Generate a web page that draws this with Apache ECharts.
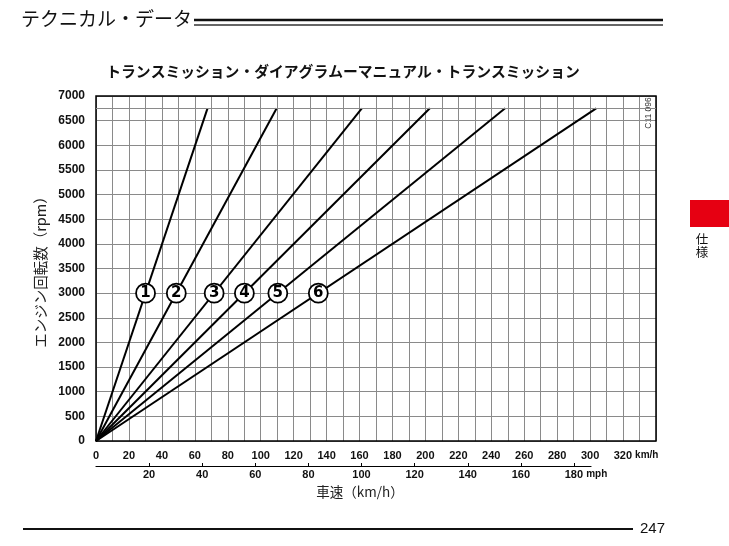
<!DOCTYPE html>
<html>
<head>
<meta charset="utf-8">
<script src="https://cdn.jsdelivr.net/npm/echarts@6/dist/echarts.min.js"></script>
<style>html,body{margin:0;padding:0;background:#fff}#c{width:729px;height:546px}</style>
</head>
<body>
<div id="c"></div>
<script>
// ---- data ----
const gears = ['1', '2', '3', '4', '5', '6'];
const gearTopSpeedKmh = [67.7, 109.7, 161.4, 202.7, 248.4, 303.7];
const topRpm = 6750;
const markerRpm = 3000;
const kmhTicks = [0, 20, 40, 60, 80, 100, 120, 140, 160, 180, 200, 220, 240, 260, 280, 300, 320];
const mphTicks = [20, 40, 60, 80, 100, 120, 140, 160, 180];
const rpmTicks = [0, 500, 1000, 1500, 2000, 2500, 3000, 3500, 4000, 4500, 5000, 5500, 6000, 6500, 7000];
const KMH_PER_MPH = 1.609344;

const JP = '"Noto Sans CJK JP", sans-serif';
const NUM = '"Liberation Sans", Arial, sans-serif';

const chart = echarts.init(document.getElementById('c'), null, {renderer: 'canvas'});

const lineSeries = gears.map((g, i) => ({
  type: 'line',
  xAxisIndex: 0, yAxisIndex: 0,
  data: [[0, 0], [gearTopSpeedKmh[i], topRpm]],
  symbol: 'none',
  lineStyle: {color: '#000', width: 2},
  silent: true,
  z: 3,
  markLine: i === 0 ? {
    silent: true, symbol: 'none', label: {show: false},
    lineStyle: {color: '#8a8a8a', width: 1, type: 'solid'},
    data: [{yAxis: topRpm}]
  } : undefined
}));

const markerSeries = {
  type: 'scatter',
  xAxisIndex: 0, yAxisIndex: 0,
  data: gears.map((g, i) => ({value: [gearTopSpeedKmh[i] * markerRpm / topRpm, markerRpm], name: g})),
  symbol: 'circle',
  symbolSize: 19,
  itemStyle: {color: '#fff', borderColor: '#000', borderWidth: 1.8, opacity: 1},
  label: {show: true, position: 'inside', formatter: p => p.name,
          color: '#000', fontFamily: '"DejaVu Sans", sans-serif', fontWeight: 'bold', fontSize: 15,
          textBorderWidth: 0},
  emphasis: {disabled: true},
  z: 5
};

const mphDummy = {type: 'scatter', xAxisIndex: 1, yAxisIndex: 1, data: []};

chart.setOption({
  animation: false,
  backgroundColor: '#fff',
  grid: [
    {left: 96, right: 73, top: 96, bottom: 105, show: true, borderColor: '#000', borderWidth: 1.5, backgroundColor: 'transparent', z: 4},
    {left: 96, right: 138, top: 456, height: 10}
  ],
  xAxis: [
    {
      type: 'value', gridIndex: 0, min: 0, max: 340, interval: 10,
      axisLine: {show: false}, axisTick: {show: false},
      splitLine: {show: true, lineStyle: {color: '#8a8a8a', width: 1}},
      axisLabel: {
        margin: 9, interval: 1,
        fontFamily: NUM, fontWeight: 'bold', fontSize: 11, color: '#111',
        formatter: v => {
          if (kmhTicks.indexOf(v) < 0) return '';
          if (v === kmhTicks[kmhTicks.length - 1]) return '{sp|}{n|' + v + '} {u|km/h}';
          return '{n|' + v + '}';
        },
        rich: {
          n: {fontFamily: NUM, fontWeight: 'bold', fontSize: 11, color: '#111'},
          u: {fontFamily: NUM, fontWeight: 'bold', fontSize: 10, color: '#111'},
          sp: {width: 26}
        }
      }
    },
    {
      type: 'value', gridIndex: 1, min: 0, max: 300 / KMH_PER_MPH, interval: 20, position: 'bottom',
      axisLine: {show: true, lineStyle: {color: '#000', width: 1.2}},
      axisTick: {show: true, inside: true, length: 3, lineStyle: {color: '#000'}},
      splitLine: {show: false},
      axisLabel: {
        margin: 3, showMinLabel: false, showMaxLabel: false,
        fontFamily: NUM, fontWeight: 'bold', fontSize: 11, color: '#111',
        formatter: v => {
          if (mphTicks.indexOf(v) < 0) return '';
          if (v === mphTicks[mphTicks.length - 1]) return '{sp|}{n|' + v + '} {u|mph}';
          return '{n|' + v + '}';
        },
        rich: {
          n: {fontFamily: NUM, fontWeight: 'bold', fontSize: 11, color: '#111'},
          u: {fontFamily: NUM, fontWeight: 'bold', fontSize: 10, color: '#111'},
          sp: {width: 24}
        }
      }
    }
  ],
  yAxis: [
    {
      type: 'value', gridIndex: 0, min: 0, max: 7000, interval: 500,
      axisLine: {show: false}, axisTick: {show: false},
      splitLine: {show: true, lineStyle: {color: '#8a8a8a', width: 1}},
      axisLabel: {margin: 11, fontFamily: NUM, fontWeight: 'bold', fontSize: 12, color: '#111',
        formatter: v => rpmTicks.indexOf(v) >= 0 ? String(v) : ''},
      name: 'エンジン回転数（rpm）',
      nameLocation: 'middle', nameGap: 46,
      nameTextStyle: {fontFamily: JP, fontSize: 14.5, color: '#222'}
    },
    {type: 'value', gridIndex: 1, min: 0, max: 1, show: false}
  ],
  series: [...lineSeries, markerSeries, mphDummy],
  graphic: [
    {type: 'text', left: 21, top: 9, style: {text: 'テクニカル・データ', fontFamily: JP, fontSize: 19, fill: '#111'}},
    {type: 'line', shape: {x1: 194, y1: 20, x2: 663, y2: 20}, style: {stroke: '#111', lineWidth: 2.5}},
    {type: 'line', shape: {x1: 194, y1: 25, x2: 663, y2: 25}, style: {stroke: '#333', lineWidth: 1.5}},
    {type: 'text', x: 343, y: 71, style: {text: 'トランスミッション・ダイアグラムーマニュアル・トランスミッション',
      fontFamily: JP, fontWeight: 'bold', fontSize: 14.8, fill: '#111', align: 'center', verticalAlign: 'middle'}},
    {type: 'text', x: 649, y: 113, rotation: Math.PI / 2, style: {text: 'C11 096', fontFamily: NUM, fontSize: 8.5,
      fill: '#333', align: 'center', verticalAlign: 'middle'}},
    {type: 'rect', shape: {x: 690, y: 200, width: 39, height: 27}, style: {fill: '#e60012'}},
    {type: 'text', x: 702, y: 239, style: {text: '仕', fontFamily: JP, fontSize: 12.5, fill: '#111', align: 'center', verticalAlign: 'middle'}},
    {type: 'text', x: 702, y: 252, style: {text: '様', fontFamily: JP, fontSize: 12.5, fill: '#111', align: 'center', verticalAlign: 'middle'}},
    {type: 'text', x: 360, y: 492, style: {text: '車速（km/h）', fontFamily: JP, fontSize: 13.5, fill: '#222', align: 'center', verticalAlign: 'middle'}},
    {type: 'line', shape: {x1: 23, y1: 529, x2: 633, y2: 529}, style: {stroke: '#111', lineWidth: 2}},
    {type: 'text', x: 640, y: 529, style: {text: '247', fontFamily: NUM, fontSize: 15, fill: '#111', verticalAlign: 'middle'}}
  ]
});
</script>
</body>
</html>
